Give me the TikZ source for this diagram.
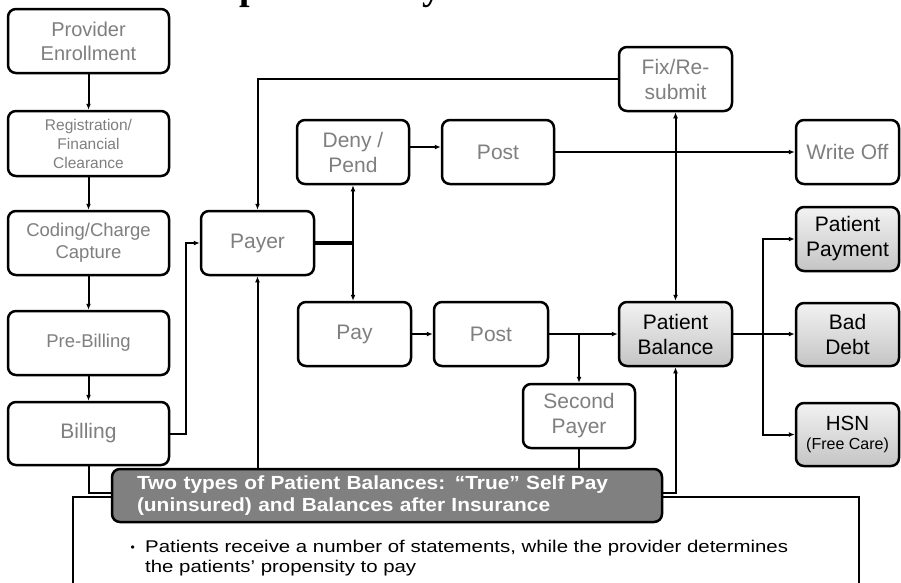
\documentclass[tikz,border=0pt]{standalone}
\usepackage{fontspec}
\setmainfont{Liberation Sans}
\newfontfamily\headfont{Liberation Serif}
\newfontfamily\notefont[FakeStretch=1.2]{Liberation Sans}
\newfontfamily\bannerfont[FakeStretch=1.1]{Liberation Sans}
\usetikzlibrary{arrows.meta}

\definecolor{labelgray}{HTML}{7F7F7F}
\definecolor{bannergray}{HTML}{808080}

\tikzset{
  stage/.style={draw=black, line width=2.5pt, rounded corners=8pt, fill=white,
    text=labelgray, align=center, minimum width=113pt, minimum height=64pt,
    inner sep=2pt, font=\fontsize{21}{25}\selectfont},
  wide/.style={minimum width=161pt},
  outcome/.style={stage, text=black, top color=black!5, bottom color=black!23},
  link/.style={line width=2pt, -{Latex[length=6pt,width=5pt]}},
  plain/.style={line width=2pt},
  both/.style={line width=2pt, {Latex[length=6pt,width=5pt]}-{Latex[length=6pt,width=5pt]}},
  textline/.style={anchor=base west, inner sep=0pt},
  headglyph/.style={anchor=south, inner sep=0pt, font=\headfont\bfseries\fontsize{38}{40}\selectfont},
}

\begin{document}
\begin{tikzpicture}[x=1pt,y=-1pt]
\useasboundingbox (0,0) rectangle (901,582);
\fill[white] (0,0) rectangle (901,582);
\clip (0,0) rectangle (901,582);

% heading, running off the top edge of the page: only the descenders remain
\node[headglyph] (headp) at (250,8) {p};
\node[headglyph] (heady) at (432,8) {y};

% frame of the notes panel
\draw[line width=2pt] (73,620) -- (73,497) -- (859,497) -- (859,620);

% claim workflow, left column
\node[stage, wide, font=\fontsize{20}{24}\selectfont] (enroll) at (88.5,41) {Provider\\Enrollment};
\node[stage, wide, minimum height=65pt, font=\fontsize{15.5}{19}\selectfont] (reg) at (88.5,143.5) {Registration/\\Financial\\Clearance};
\node[stage, wide, font=\fontsize{18.5}{22}\selectfont] (coding) at (88.5,243) {Coding/Charge\\Capture};
\node[stage, wide, font=\fontsize{18.5}{22}\selectfont] (prebill) at (88.5,343) {Pre-Billing};
\node[stage, wide, minimum height=63pt] (billing) at (88.5,433.5) {Billing};

% payer adjudication
\node[stage] (payer) at (257.5,243) {Payer};
\node[stage, minimum width=112pt] (deny) at (353,152) {Deny /\\Pend};
\node[stage, minimum width=112pt] (postA) at (498,152) {Post};
\node[stage] (fix) at (675.5,79) {Fix/Re-\\submit};
\node[stage, minimum width=103pt] (writeoff) at (847.5,152) {Write Off};
\node[stage] (pay) at (354.5,334) {Pay};
\node[stage, minimum width=114pt] (postB) at (491,334) {Post};
\node[stage, minimum width=112pt] (second) at (579,416) {Second\\Payer};

% patient balance outcomes
\node[outcome] (balance) at (675.5,334) {Patient\\Balance};
\node[outcome, minimum width=103pt] (ptpay) at (847.5,239) {Patient\\Payment};
\node[outcome, minimum width=103pt, minimum height=63pt] (baddebt) at (847.5,334.5) {Bad\\Debt};
\node[outcome, minimum width=103pt, minimum height=63pt, font=\fontsize{20.5}{19}\selectfont] (hsn) at (847.5,434.5) {HSN\\{\fontsize{16}{19}\selectfont(Free Care)}};

% banner over the notes panel
\node[draw=black, line width=2.5pt, rounded corners=8pt, fill=bannergray, text=white,
  font=\bannerfont\bfseries\fontsize{19}{21.5}\selectfont, minimum width=550pt,
  minimum height=53pt, text width=500pt, align=left, inner xsep=25pt, inner ysep=2pt]
  (banner) at (387,495.5) {Two types of Patient Balances: “True” Self Pay\\(uninsured) and Balances after Insurance};

% notes text
\node[textline, font=\fontsize{12}{12}\selectfont] (bullet) at (130.5,551) {•};
\node[textline, font=\notefont\fontsize{17}{20}\selectfont] (noteA) at (145,552) {Patients receive a number of statements, while the provider determines};
\node[textline, font=\notefont\fontsize{17}{20}\selectfont] (noteB) at (145,572) {the patients’ propensity to pay};

% connectors
\draw[link] (enroll) -- (reg);
\draw[link] (reg) -- (coding);
\draw[link] (coding) -- (prebill);
\draw[link] (prebill) -- (billing);
\draw[link] (billing.east) -- ++(16,0) |- (payer.west);
\draw[line width=3.8pt] (payer.east) -- (payer.east -| deny.south);
\draw[both] (deny.south) -- (deny.south |- pay.north);
\draw[link] ([yshift=5pt]deny.east) -- ([yshift=5pt]postA.west);
\draw[link] (postA.east) -- (writeoff.west);
\draw[link] (pay) -- (postB);
\draw[link] (postB) -- (balance);
\draw[link] (postB.east -| second.north) -- (second.north);
\draw[both] (fix.south) -- (fix.south |- balance.north);
\draw[link] (fix.west) -| (payer.north);

\coordinate (fan) at (763,334);
\draw[plain] (balance.east) -- (fan);
\draw[link] (fan) -- (fan -| baddebt.west);
\draw[link] (fan) |- (ptpay.west);
\draw[link] (fan) |- (hsn.west);

\draw[plain] (billing.south) |- ([yshift=2.5pt]banner.west);
\draw[link] (banner.north -| payer.south) -- (payer.south);
\draw[plain] (second.south) -- (second.south |- banner.north);
\draw[link] ([yshift=2.5pt]banner.east) -| (balance.south);
\end{tikzpicture}
\end{document}
